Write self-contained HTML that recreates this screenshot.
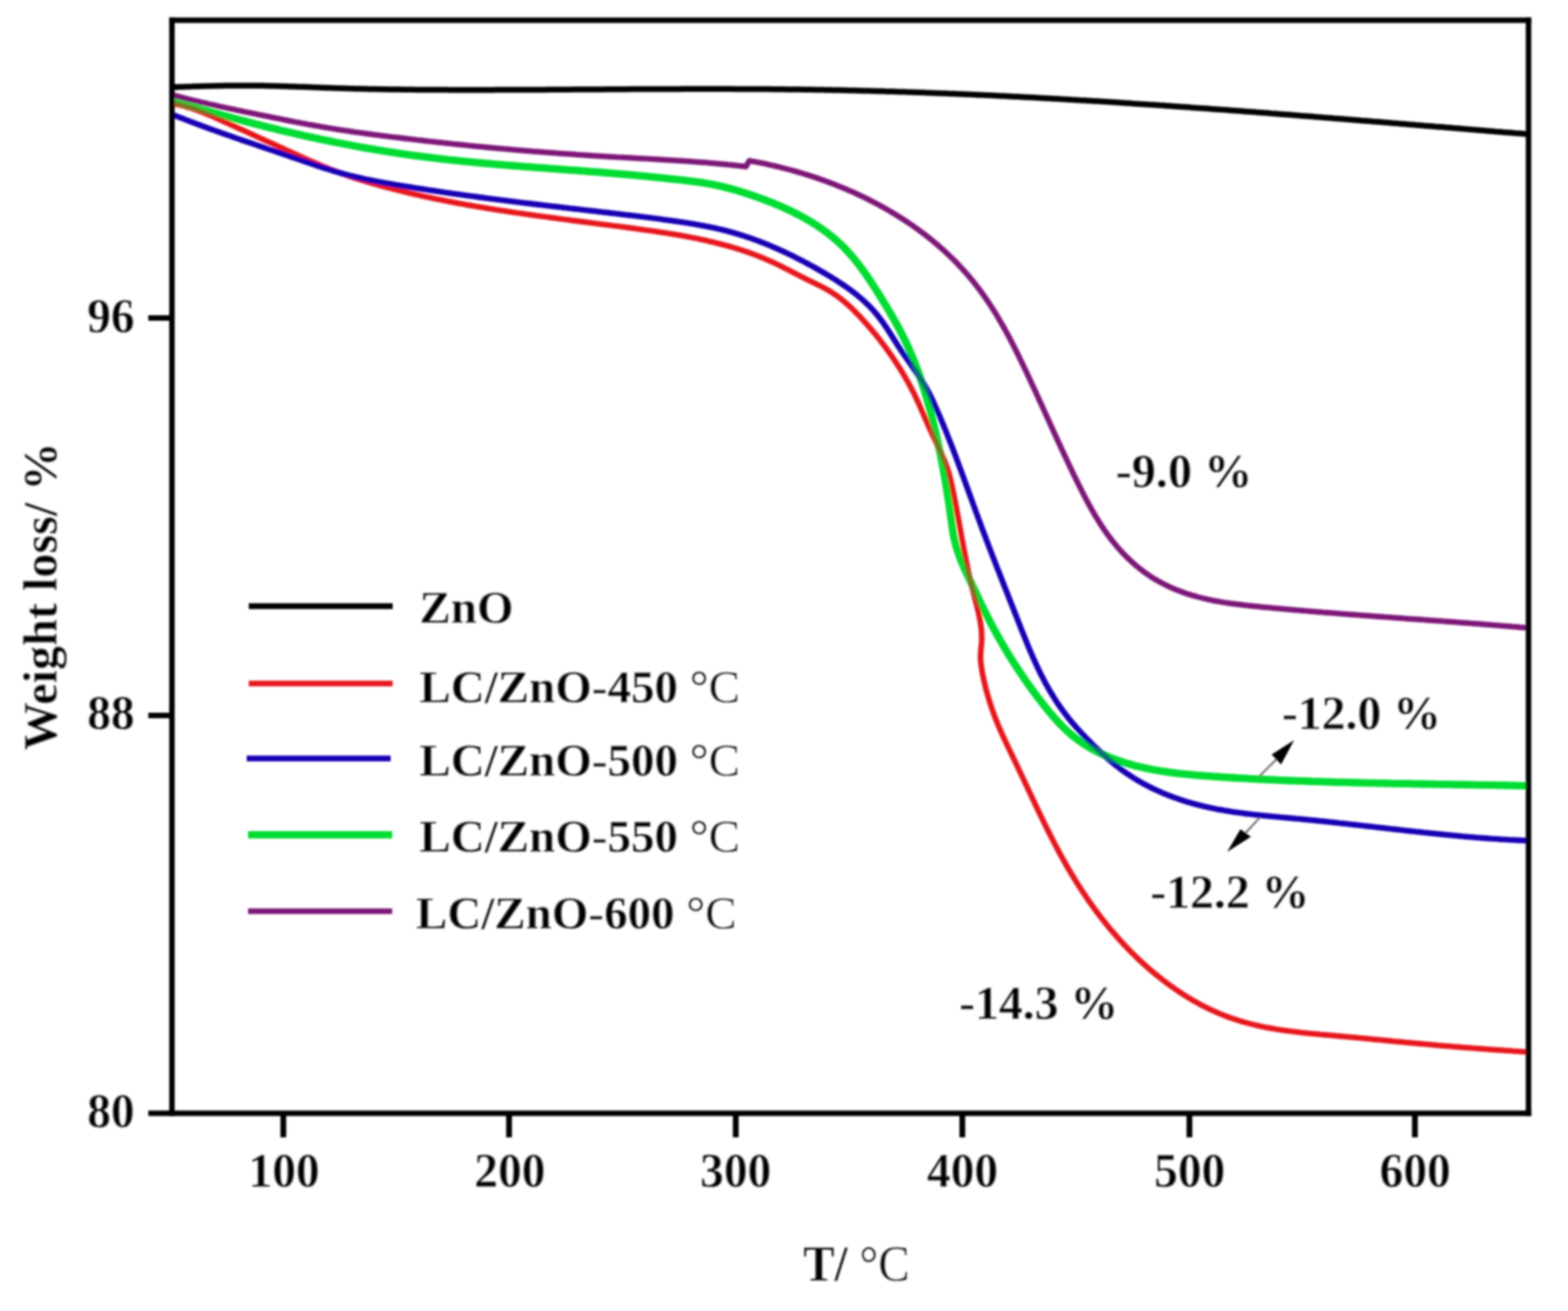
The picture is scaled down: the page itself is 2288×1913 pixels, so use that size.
<!DOCTYPE html>
<html lang="en"><head><meta charset="utf-8"><title>TG curves: weight loss vs temperature</title>
<style>
html,body{margin:0;padding:0;background:#fff;}
body{width:2288px;height:1913px;overflow:hidden;}
svg{display:block;}
text{font-family:"Liberation Serif","DejaVu Serif",serif;font-weight:bold;fill:#000;stroke:#fff;stroke-width:0.3px;stroke-linejoin:round;}
.r{font-weight:normal;}
.c{fill:none;stroke-linejoin:round;stroke-linecap:butt;}
</style></head><body>
<svg xmlns="http://www.w3.org/2000/svg" width="2288" height="1913" viewBox="0 0 2288 1913">
<rect x="0" y="0" width="2288" height="1913" fill="#fff"/>
<defs><filter id="soft" x="-2%" y="-2%" width="104%" height="104%"><feGaussianBlur stdDeviation="1.4"/></filter></defs>
<g filter="url(#soft)">
<g class="c">
<path d="M251.0,127.3L255.0,127.1L259.0,127.0L263.0,126.8L267.0,126.7L271.0,126.5L275.0,126.4L279.0,126.3L283.0,126.1L287.0,126.0L291.0,125.9L295.0,125.8L299.0,125.7L303.0,125.6L307.0,125.5L311.0,125.4L315.0,125.3L319.0,125.2L323.0,125.2L327.0,125.1L331.1,125.1L335.1,125.0L339.1,125.0L343.1,124.9L347.1,124.9L351.1,124.9L355.1,124.9L359.1,124.9L363.1,124.9L367.1,125.0L371.1,125.0L375.1,125.0L379.1,125.1L383.1,125.1L387.1,125.2L391.1,125.3L395.1,125.4L399.1,125.5L403.1,125.6L407.1,125.7L411.1,125.8L415.1,125.9L419.1,126.0L423.1,126.2L427.1,126.3L431.1,126.4L435.1,126.6L439.1,126.7L443.1,126.8L447.1,127.0L451.1,127.1L455.1,127.3L459.1,127.4L463.1,127.6L467.1,127.7L471.1,127.9L475.1,128.0L479.1,128.2L483.1,128.3L487.1,128.4L491.1,128.6L495.1,128.7L499.1,128.8L503.1,128.9L507.1,129.1L511.1,129.2L515.1,129.3L519.1,129.4L523.1,129.5L527.1,129.6L531.1,129.7L535.1,129.8L539.1,129.9L543.1,129.9L547.1,130.0L551.1,130.1L555.1,130.2L559.1,130.2L563.1,130.3L567.1,130.4L571.1,130.4L575.1,130.5L579.1,130.6L583.1,130.6L587.1,130.7L591.1,130.7L595.1,130.7L599.1,130.8L603.1,130.8L607.1,130.9L611.1,130.9L615.1,130.9L619.1,131.0L623.1,131.0L627.1,131.0L631.1,131.0L635.1,131.1L639.1,131.1L643.1,131.1L647.1,131.1L651.1,131.1L655.1,131.2L659.1,131.2L663.1,131.2L667.1,131.2L671.1,131.2L675.1,131.2L679.1,131.2L683.1,131.2L687.1,131.2L691.1,131.2L695.1,131.2L699.1,131.2L703.2,131.2L707.2,131.2L711.2,131.2L715.2,131.2L719.2,131.2L723.2,131.1L727.2,131.1L731.2,131.1L735.2,131.1L739.2,131.1L743.2,131.1L747.2,131.1L751.2,131.1L755.2,131.0L759.2,131.0L763.2,131.0L767.2,131.0L771.2,131.0L775.2,131.0L779.2,130.9L783.2,130.9L787.2,130.9L791.2,130.9L795.2,130.9L799.2,130.8L803.2,130.8L807.2,130.8L811.2,130.8L815.2,130.7L819.2,130.7L823.2,130.7L827.2,130.7L831.2,130.7L835.2,130.6L839.2,130.6L843.2,130.6L847.2,130.6L851.3,130.5L855.3,130.5L859.3,130.5L863.3,130.5L867.3,130.4L871.3,130.4L875.3,130.4L879.3,130.4L883.3,130.3L887.3,130.3L891.3,130.3L895.3,130.3L899.3,130.2L903.3,130.2L907.3,130.2L911.3,130.2L915.3,130.2L919.3,130.1L923.3,130.1L927.3,130.1L931.3,130.1L935.3,130.1L939.3,130.0L943.3,130.0L947.3,130.0L951.3,130.0L955.3,130.0L959.3,130.0L963.3,129.9L967.4,129.9L971.4,129.9L975.4,129.9L979.4,129.9L983.4,129.9L987.4,129.9L991.4,129.9L995.4,129.8L999.4,129.8L1003.4,129.8L1007.4,129.8L1011.4,129.8L1015.4,129.8L1019.4,129.8L1023.4,129.8L1027.4,129.8L1031.4,129.8L1035.4,129.8L1039.4,129.8L1043.4,129.8L1047.4,129.8L1051.4,129.8L1055.4,129.8L1059.4,129.8L1063.4,129.8L1067.4,129.8L1071.4,129.9L1075.4,129.9L1079.4,129.9L1083.4,129.9L1087.5,129.9L1091.5,129.9L1095.5,130.0L1099.5,130.0L1103.5,130.0L1107.5,130.0L1111.5,130.1L1115.5,130.1L1119.5,130.1L1123.5,130.1L1127.5,130.2L1131.5,130.2L1135.5,130.3L1139.5,130.3L1143.5,130.3L1147.5,130.4L1151.5,130.4L1155.5,130.5L1159.5,130.5L1163.5,130.6L1167.5,130.6L1171.5,130.7L1175.5,130.7L1179.5,130.8L1183.5,130.8L1187.5,130.9L1191.5,131.0L1195.5,131.0L1199.5,131.1L1203.5,131.2L1207.5,131.2L1211.5,131.3L1215.5,131.4L1219.5,131.5L1223.5,131.6L1227.5,131.6L1231.5,131.7L1235.5,131.8L1239.5,131.9L1243.5,132.0L1247.5,132.1L1251.5,132.2L1255.5,132.3L1259.5,132.4L1263.5,132.5L1267.5,132.6L1271.5,132.7L1275.5,132.8L1279.5,132.9L1283.5,133.0L1287.5,133.1L1291.5,133.3L1295.5,133.4L1299.5,133.5L1303.5,133.6L1307.5,133.7L1311.5,133.9L1315.5,134.0L1319.5,134.1L1323.5,134.3L1327.5,134.4L1331.5,134.5L1335.5,134.7L1339.5,134.8L1343.5,135.0L1347.5,135.1L1351.5,135.3L1355.5,135.4L1359.5,135.6L1363.5,135.7L1367.5,135.9L1371.5,136.0L1375.5,136.2L1379.5,136.3L1383.5,136.5L1387.5,136.7L1391.5,136.8L1395.5,137.0L1399.5,137.2L1403.5,137.3L1407.5,137.5L1411.5,137.7L1415.5,137.8L1419.5,138.0L1423.5,138.2L1427.5,138.4L1431.5,138.6L1435.5,138.7L1439.5,138.9L1443.5,139.1L1447.5,139.3L1451.5,139.5L1455.5,139.7L1459.5,139.9L1463.5,140.1L1467.5,140.3L1471.5,140.5L1475.5,140.7L1479.5,140.9L1483.5,141.1L1487.5,141.3L1491.5,141.5L1495.5,141.7L1499.5,141.9L1503.5,142.1L1507.5,142.3L1511.5,142.5L1515.4,142.8L1519.4,143.0L1523.4,143.2L1527.4,143.4L1531.4,143.6L1535.4,143.9L1539.4,144.1L1543.4,144.3L1547.4,144.5L1551.4,144.8L1555.4,145.0L1559.4,145.2L1563.4,145.5L1567.4,145.7L1571.4,145.9L1575.4,146.2L1579.4,146.4L1583.4,146.6L1587.4,146.9L1591.4,147.1L1595.4,147.4L1599.4,147.6L1603.4,147.8L1607.4,148.1L1611.4,148.3L1615.4,148.6L1619.3,148.8L1623.3,149.1L1627.3,149.3L1631.3,149.6L1635.3,149.9L1639.3,150.1L1643.3,150.4L1647.3,150.6L1651.3,150.9L1655.3,151.2L1659.3,151.4L1663.3,151.7L1667.3,151.9L1671.3,152.2L1675.3,152.5L1679.3,152.7L1683.3,153.0L1687.3,153.3L1691.3,153.6L1695.2,153.8L1699.2,154.1L1703.2,154.4L1707.2,154.6L1711.2,154.9L1715.2,155.2L1719.2,155.5L1723.2,155.8L1727.2,156.0L1731.2,156.3L1735.2,156.6L1739.2,156.9L1743.2,157.2L1747.2,157.5L1751.2,157.7L1755.2,158.0L1759.1,158.3L1763.1,158.6L1767.1,158.9L1771.1,159.2L1775.1,159.5L1779.1,159.8L1783.1,160.1L1787.1,160.3L1791.1,160.6L1795.1,160.9L1799.1,161.2L1803.1,161.5L1807.1,161.8L1811.1,162.1L1815.0,162.4L1819.0,162.7L1823.0,163.0L1827.0,163.3L1831.0,163.6L1835.0,163.9L1839.0,164.2L1843.0,164.5L1847.0,164.8L1851.0,165.1L1855.0,165.5L1859.0,165.8L1863.0,166.1L1866.9,166.4L1870.9,166.7L1874.9,167.0L1878.9,167.3L1882.9,167.6L1886.9,167.9L1890.9,168.2L1894.9,168.6L1898.9,168.9L1902.9,169.2L1906.9,169.5L1910.9,169.8L1914.8,170.1L1918.8,170.4L1922.8,170.8L1926.8,171.1L1930.8,171.4L1934.8,171.7L1938.8,172.0L1942.8,172.3L1946.8,172.7L1950.8,173.0L1954.8,173.3L1958.7,173.6L1962.7,173.9L1966.7,174.3L1970.7,174.6L1974.7,174.9L1978.7,175.2L1982.7,175.5L1986.7,175.9L1990.7,176.2L1994.7,176.5L1998.7,176.8L2002.6,177.2L2006.6,177.5L2010.6,177.8L2014.6,178.1L2018.6,178.5L2022.6,178.8L2026.6,179.1L2030.6,179.4L2034.6,179.8L2038.6,180.1L2042.5,180.4L2046.5,180.7L2050.5,181.1L2054.5,181.4L2058.5,181.7L2062.5,182.0L2066.5,182.4L2070.5,182.7L2074.5,183.0L2078.4,183.4L2082.4,183.7L2086.4,184.0L2090.4,184.3L2094.4,184.7L2098.4,185.0L2102.4,185.3L2106.4,185.6L2110.4,186.0L2114.3,186.3L2118.3,186.6L2122.3,187.0L2126.3,187.3L2130.3,187.6L2134.3,187.9L2138.3,188.3L2142.3,188.6L2146.3,188.9L2150.2,189.3L2154.2,189.6L2158.2,189.9L2162.2,190.2L2166.2,190.6L2170.2,190.9L2174.2,191.2L2178.2,191.5L2182.1,191.9L2186.1,192.2L2190.1,192.5L2194.1,192.9L2198.1,193.2L2202.1,193.5L2206.1,193.8L2210.1,194.2L2214.0,194.5L2218.0,194.8L2222.0,195.1L2226.0,195.5L2230.0,195.8" stroke="#000000" stroke-width="8.5"/>
<path id="g550" d="M251.0,146.5L254.8,147.7L258.6,148.8L262.5,150.0L266.3,151.2L270.1,152.3L274.0,153.5L277.8,154.6L281.6,155.7L285.5,156.9L289.3,158.0L293.1,159.1L297.0,160.2L300.8,161.3L304.7,162.4L308.5,163.5L312.4,164.6L316.2,165.7L320.1,166.8L323.9,167.9L327.8,169.0L331.7,170.0L335.5,171.1L339.4,172.1L343.3,173.2L347.1,174.2L351.0,175.2L354.9,176.3L358.7,177.3L362.6,178.3L366.5,179.3L370.4,180.3L374.2,181.3L378.1,182.3L382.0,183.3L385.9,184.3L389.8,185.2L393.7,186.2L397.6,187.1L401.5,188.1L405.4,189.0L409.2,190.0L413.1,190.9L417.0,191.8L420.9,192.7L424.8,193.6L428.7,194.5L432.7,195.4L436.6,196.3L440.5,197.2L444.4,198.1L448.3,198.9L452.2,199.8L456.1,200.6L460.0,201.5L464.0,202.3L467.9,203.2L471.8,204.0L475.7,204.8L479.6,205.6L483.6,206.4L487.5,207.2L491.4,208.0L495.3,208.7L499.3,209.5L503.2,210.3L507.1,211.0L511.1,211.8L515.0,212.5L519.0,213.2L522.9,214.0L526.8,214.7L530.8,215.4L534.7,216.1L538.7,216.8L542.6,217.4L546.6,218.1L550.5,218.8L554.4,219.4L558.4,220.1L562.4,220.7L566.3,221.3L570.3,221.9L574.2,222.6L578.2,223.2L582.1,223.8L586.1,224.3L590.1,224.9L594.0,225.5L598.0,226.0L601.9,226.6L605.9,227.1L609.9,227.7L613.8,228.2L617.8,228.7L621.8,229.2L625.8,229.7L629.7,230.2L633.7,230.7L637.7,231.1L641.6,231.6L645.6,232.1L649.6,232.5L653.6,233.0L657.6,233.4L661.5,233.8L665.5,234.2L669.5,234.7L673.5,235.1L677.5,235.5L681.4,235.9L685.4,236.2L689.4,236.6L693.4,237.0L697.4,237.4L701.4,237.7L705.4,238.1L709.3,238.5L713.3,238.8L717.3,239.2L721.3,239.5L725.3,239.9L729.3,240.2L733.3,240.5L737.3,240.9L741.3,241.2L745.3,241.5L749.2,241.8L753.2,242.1L757.2,242.4L761.2,242.8L765.2,243.1L769.2,243.4L773.2,243.7L777.2,244.0L781.2,244.3L785.2,244.6L789.2,244.9L793.2,245.2L797.2,245.5L801.2,245.8L805.2,246.1L809.1,246.4L813.1,246.7L817.1,247.0L821.1,247.3L825.1,247.6L829.1,247.9L833.1,248.1L837.1,248.4L841.1,248.7L845.1,249.0L849.1,249.3L853.1,249.7L857.1,250.0L861.0,250.3L865.0,250.6L869.0,250.9L873.0,251.2L877.0,251.5L881.0,251.8L885.0,252.2L889.0,252.5L893.0,252.8L896.9,253.2L900.9,253.5L904.9,253.8L908.9,254.2L912.9,254.5L916.9,254.9L920.9,255.2L924.8,255.6L928.8,256.0L932.8,256.4L936.8,256.7L940.8,257.1L944.7,257.5L948.7,257.9L952.7,258.3L956.7,258.7L960.7,259.1L964.7,259.5L968.6,259.9L972.6,260.3L976.6,260.8L980.6,261.2L984.6,261.6L988.6,262.0L992.6,262.5L996.6,262.9L1000.6,263.4L1004.6,263.8L1008.6,264.3L1012.6,264.8L1016.6,265.4L1020.6,265.9L1024.5,266.5L1028.5,267.2L1032.4,267.8L1036.4,268.5L1040.3,269.3L1044.2,270.1L1048.1,270.9L1051.9,271.8L1055.8,272.7L1059.7,273.7L1063.5,274.7L1067.3,275.7L1071.1,276.8L1074.9,277.9L1078.8,279.0L1082.5,280.2L1086.3,281.4L1090.1,282.6L1093.9,283.9L1097.7,285.1L1101.5,286.4L1105.3,287.8L1109.1,289.1L1112.9,290.5L1116.6,291.9L1120.4,293.4L1124.1,294.8L1127.9,296.3L1131.6,297.9L1135.4,299.4L1139.1,301.0L1142.8,302.6L1146.4,304.3L1150.1,306.0L1153.8,307.7L1157.4,309.5L1161.0,311.3L1164.6,313.1L1168.1,315.0L1171.6,316.9L1175.2,318.9L1178.6,320.9L1182.1,322.9L1185.5,325.0L1188.9,327.1L1192.2,329.3L1195.5,331.5L1198.8,333.8L1202.1,336.1L1205.3,338.4L1208.4,340.8L1211.6,343.3L1214.6,345.8L1217.7,348.3L1220.7,350.9L1223.6,353.6L1226.5,356.3L1229.4,359.0L1232.2,361.8L1234.9,364.7L1237.6,367.6L1240.3,370.6L1242.9,373.6L1245.5,376.6L1248.0,379.7L1250.5,382.8L1253.0,386.0L1255.4,389.2L1257.8,392.4L1260.2,395.7L1262.5,398.9L1264.8,402.2L1267.1,405.6L1269.3,408.9L1271.5,412.3L1273.7,415.7L1275.9,419.0L1278.1,422.5L1280.2,425.9L1282.4,429.3L1284.5,432.7L1286.6,436.1L1288.7,439.6L1290.8,443.0L1292.9,446.4L1294.9,449.8L1297.0,453.3L1299.0,456.7L1301.0,460.2L1303.0,463.6L1305.0,467.1L1307.0,470.6L1308.9,474.0L1310.8,477.5L1312.7,481.0L1314.5,484.6L1316.3,488.1L1318.1,491.6L1319.9,495.2L1321.6,498.8L1323.3,502.4L1325.0,506.0L1326.6,509.6L1328.2,513.3L1329.8,516.9L1331.3,520.6L1332.8,524.3L1334.3,528.0L1335.7,531.8L1337.2,535.5L1338.6,539.2L1339.9,543.0L1341.3,546.8L1342.6,550.6L1343.9,554.4L1345.1,558.2L1346.4,562.0L1347.6,565.8L1348.8,569.6L1350.0,573.5L1351.1,577.3L1352.3,581.2L1353.4,585.0L1354.5,588.9L1355.5,592.8L1356.6,596.6L1357.6,600.5L1358.6,604.4L1359.7,608.3L1360.6,612.2L1361.6,616.1L1362.6,620.0L1363.5,623.9L1364.4,627.8L1365.4,631.7L1366.3,635.6L1367.1,639.5L1368.0,643.4L1368.9,647.3L1369.7,651.2L1370.5,655.1L1371.4,659.0L1372.2,662.9L1372.9,666.8L1373.7,670.8L1374.5,674.7L1375.2,678.6L1376.0,682.5L1376.7,686.5L1377.4,690.4L1378.1,694.3L1378.8,698.3L1379.5,702.2L1380.2,706.1L1380.8,710.1L1381.5,714.0L1382.1,718.0L1382.7,721.9L1383.3,725.9L1383.9,729.8L1384.5,733.8L1385.1,737.8L1385.7,741.7L1386.2,745.7L1386.8,749.7L1387.3,753.6L1387.8,757.6L1388.4,761.6L1388.9,765.6L1389.5,769.5L1390.1,773.5L1390.7,777.4L1391.4,781.3L1392.2,785.2L1393.1,789.1L1394.1,792.9L1395.1,796.8L1396.2,800.6L1397.4,804.3L1398.7,808.1L1400.0,811.8L1401.4,815.5L1402.9,819.2L1404.4,822.9L1406.0,826.6L1407.6,830.2L1409.3,833.9L1410.9,837.5L1412.7,841.2L1414.4,844.8L1416.1,848.4L1417.9,852.0L1419.6,855.7L1421.3,859.3L1423.0,863.0L1424.8,866.6L1426.5,870.2L1428.2,873.9L1429.9,877.5L1431.6,881.1L1433.4,884.7L1435.1,888.4L1436.9,891.9L1438.7,895.5L1440.5,899.1L1442.3,902.7L1444.1,906.2L1446.0,909.8L1447.9,913.3L1449.8,916.8L1451.7,920.3L1453.6,923.8L1455.5,927.3L1457.5,930.8L1459.5,934.3L1461.4,937.7L1463.4,941.2L1465.5,944.6L1467.5,948.1L1469.6,951.5L1471.6,954.9L1473.7,958.3L1475.8,961.7L1478.0,965.1L1480.1,968.4L1482.3,971.8L1484.5,975.1L1486.7,978.5L1488.9,981.8L1491.1,985.1L1493.4,988.4L1495.6,991.7L1497.9,995.0L1500.2,998.3L1502.5,1001.5L1504.9,1004.8L1507.2,1008.0L1509.6,1011.2L1512.0,1014.5L1514.4,1017.7L1516.9,1020.9L1519.3,1024.0L1521.8,1027.2L1524.3,1030.4L1526.8,1033.5L1529.4,1036.7L1531.9,1039.8L1534.5,1042.8L1537.1,1045.9L1539.8,1048.9L1542.5,1051.9L1545.2,1054.8L1548.0,1057.7L1550.8,1060.6L1553.7,1063.4L1556.6,1066.1L1559.5,1068.8L1562.5,1071.4L1565.6,1074.0L1568.7,1076.5L1571.9,1078.9L1575.1,1081.3L1578.4,1083.5L1581.7,1085.7L1585.1,1087.9L1588.5,1090.0L1592.0,1092.0L1595.5,1093.9L1599.0,1095.8L1602.6,1097.6L1606.2,1099.3L1609.8,1101.0L1613.5,1102.6L1617.2,1104.2L1620.9,1105.7L1624.6,1107.2L1628.3,1108.5L1632.1,1109.9L1635.9,1111.2L1639.7,1112.4L1643.5,1113.6L1647.3,1114.7L1651.1,1115.8L1654.9,1116.9L1658.8,1117.9L1662.6,1118.8L1666.5,1119.7L1670.4,1120.6L1674.3,1121.4L1678.2,1122.2L1682.1,1123.0L1686.1,1123.7L1690.0,1124.4L1693.9,1125.0L1697.9,1125.6L1701.9,1126.2L1705.8,1126.8L1709.8,1127.3L1713.8,1127.8L1717.8,1128.3L1721.7,1128.8L1725.7,1129.2L1729.7,1129.6L1733.7,1130.0L1737.7,1130.4L1741.8,1130.8L1745.8,1131.1L1749.8,1131.5L1753.8,1131.8L1757.8,1132.1L1761.8,1132.4L1765.8,1132.7L1769.8,1133.0L1773.9,1133.2L1777.9,1133.5L1781.9,1133.8L1785.9,1134.0L1789.9,1134.3L1793.9,1134.5L1797.9,1134.8L1801.9,1135.0L1805.9,1135.3L1809.9,1135.5L1813.9,1135.7L1817.9,1135.9L1821.9,1136.2L1825.9,1136.4L1829.9,1136.6L1833.9,1136.8L1837.9,1137.0L1841.9,1137.2L1845.9,1137.4L1849.8,1137.6L1853.8,1137.8L1857.8,1137.9L1861.8,1138.1L1865.8,1138.3L1869.8,1138.5L1873.8,1138.6L1877.8,1138.8L1881.8,1139.0L1885.8,1139.1L1889.8,1139.3L1893.8,1139.4L1897.8,1139.6L1901.7,1139.7L1905.7,1139.9L1909.7,1140.0L1913.7,1140.2L1917.7,1140.3L1921.7,1140.4L1925.7,1140.6L1929.7,1140.7L1933.7,1140.8L1937.7,1140.9L1941.7,1141.1L1945.7,1141.2L1949.7,1141.3L1953.7,1141.4L1957.7,1141.5L1961.7,1141.6L1965.7,1141.7L1969.7,1141.8L1973.7,1141.9L1977.7,1142.0L1981.7,1142.1L1985.7,1142.2L1989.7,1142.3L1993.7,1142.4L1997.7,1142.5L2001.7,1142.6L2005.7,1142.7L2009.7,1142.8L2013.8,1142.9L2017.8,1142.9L2021.8,1143.0L2025.8,1143.1L2029.8,1143.2L2033.8,1143.3L2037.8,1143.3L2041.8,1143.4L2045.8,1143.5L2049.8,1143.6L2053.8,1143.6L2057.8,1143.7L2061.8,1143.8L2065.8,1143.8L2069.9,1143.9L2073.9,1144.0L2077.9,1144.0L2081.9,1144.1L2085.9,1144.2L2089.9,1144.2L2093.9,1144.3L2097.9,1144.4L2101.9,1144.4L2105.9,1144.5L2109.9,1144.6L2113.9,1144.6L2117.9,1144.7L2121.9,1144.8L2126.0,1144.8L2130.0,1144.9L2134.0,1144.9L2138.0,1145.0L2142.0,1145.1L2146.0,1145.1L2150.0,1145.2L2154.0,1145.3L2158.0,1145.3L2162.0,1145.4L2166.0,1145.5L2170.0,1145.5L2174.0,1145.6L2178.0,1145.7L2182.0,1145.7L2186.0,1145.8L2190.0,1145.9L2194.0,1145.9L2198.0,1146.0L2202.0,1146.1L2206.0,1146.1L2210.0,1146.2L2214.0,1146.3L2218.0,1146.4L2222.0,1146.4L2226.0,1146.5L2230.0,1146.6" stroke="#00dc32" stroke-width="10.8"/>
<path d="M251.0,150.8L255.0,151.5L258.9,152.4L262.8,153.3L266.7,154.3L270.6,155.3L274.4,156.5L278.2,157.6L282.0,158.9L285.8,160.2L289.5,161.6L293.3,163.0L297.0,164.4L300.7,165.9L304.4,167.5L308.1,169.0L311.7,170.6L315.4,172.2L319.0,173.9L322.7,175.5L326.3,177.2L329.9,178.8L333.6,180.5L337.2,182.2L340.9,183.8L344.5,185.5L348.1,187.2L351.8,188.8L355.4,190.5L359.1,192.1L362.7,193.8L366.3,195.4L370.0,197.1L373.6,198.7L377.3,200.4L380.9,202.1L384.5,203.7L388.2,205.4L391.8,207.0L395.5,208.7L399.1,210.3L402.8,212.0L406.4,213.7L410.0,215.3L413.7,217.0L417.3,218.7L421.0,220.3L424.6,222.0L428.2,223.7L431.9,225.3L435.5,227.0L439.2,228.6L442.8,230.3L446.5,231.9L450.1,233.6L453.8,235.2L457.5,236.8L461.1,238.4L464.8,239.9L468.5,241.5L472.2,243.0L475.9,244.5L479.6,246.0L483.3,247.5L487.1,248.9L490.8,250.3L494.6,251.7L498.3,253.1L502.1,254.4L505.9,255.7L509.7,257.0L513.5,258.3L517.3,259.5L521.1,260.8L524.9,262.0L528.7,263.2L532.5,264.3L536.4,265.5L540.2,266.6L544.1,267.7L547.9,268.8L551.8,269.9L555.6,271.0L559.5,272.1L563.3,273.1L567.2,274.1L571.1,275.1L574.9,276.1L578.8,277.1L582.7,278.1L586.6,279.1L590.5,280.0L594.3,280.9L598.2,281.9L602.1,282.8L606.0,283.7L609.9,284.6L613.8,285.4L617.7,286.3L621.6,287.2L625.5,288.0L629.4,288.8L633.3,289.7L637.2,290.5L641.2,291.3L645.1,292.1L649.0,292.8L652.9,293.6L656.8,294.4L660.8,295.1L664.7,295.9L668.6,296.6L672.5,297.3L676.5,298.0L680.4,298.7L684.3,299.4L688.3,300.1L692.2,300.8L696.2,301.5L700.1,302.1L704.1,302.8L708.0,303.4L711.9,304.1L715.9,304.7L719.8,305.4L723.8,306.0L727.7,306.6L731.7,307.2L735.7,307.8L739.6,308.4L743.6,309.0L747.5,309.6L751.5,310.2L755.4,310.8L759.4,311.3L763.4,311.9L767.3,312.5L771.3,313.0L775.3,313.6L779.2,314.1L783.2,314.7L787.2,315.2L791.1,315.8L795.1,316.3L799.1,316.8L803.0,317.4L807.0,317.9L811.0,318.4L815.0,319.0L818.9,319.5L822.9,320.0L826.9,320.5L830.8,321.0L834.8,321.6L838.8,322.1L842.8,322.6L846.7,323.1L850.7,323.6L854.7,324.1L858.7,324.6L862.6,325.1L866.6,325.7L870.6,326.2L874.5,326.7L878.5,327.2L882.5,327.7L886.5,328.2L890.4,328.7L894.4,329.3L898.4,329.8L902.3,330.3L906.3,330.8L910.3,331.3L914.3,331.9L918.2,332.4L922.2,332.9L926.2,333.5L930.1,334.0L934.1,334.6L938.0,335.1L942.0,335.7L946.0,336.2L949.9,336.8L953.9,337.3L957.8,337.9L961.8,338.5L965.7,339.1L969.7,339.7L973.6,340.3L977.6,341.0L981.5,341.6L985.5,342.3L989.4,342.9L993.3,343.6L997.3,344.3L1001.2,345.1L1005.1,345.8L1009.1,346.5L1013.0,347.3L1016.9,348.1L1020.8,348.9L1024.7,349.7L1028.6,350.6L1032.5,351.5L1036.4,352.4L1040.3,353.3L1044.2,354.2L1048.0,355.2L1051.9,356.2L1055.8,357.2L1059.6,358.2L1063.5,359.3L1067.3,360.4L1071.2,361.6L1075.0,362.7L1078.8,363.9L1082.6,365.1L1086.4,366.4L1090.2,367.7L1094.0,369.0L1097.7,370.4L1101.5,371.7L1105.2,373.2L1108.9,374.6L1112.6,376.1L1116.3,377.7L1120.0,379.2L1123.7,380.9L1127.3,382.5L1130.9,384.2L1134.5,385.9L1138.1,387.7L1141.7,389.5L1145.3,391.3L1148.9,393.1L1152.5,395.0L1156.0,396.8L1159.6,398.7L1163.2,400.5L1166.7,402.3L1170.3,404.2L1173.9,406.0L1177.5,407.8L1181.1,409.5L1184.7,411.3L1188.3,413.0L1191.9,414.8L1195.4,416.5L1199.0,418.3L1202.5,420.2L1206.0,422.1L1209.5,424.1L1212.9,426.1L1216.2,428.3L1219.5,430.5L1222.7,432.8L1225.9,435.3L1229.0,437.7L1232.1,440.3L1235.1,442.9L1238.1,445.6L1241.1,448.3L1244.0,451.1L1246.9,453.9L1249.7,456.8L1252.5,459.7L1255.3,462.6L1258.0,465.5L1260.7,468.5L1263.4,471.5L1266.0,474.5L1268.6,477.5L1271.2,480.5L1273.8,483.5L1276.3,486.6L1278.9,489.7L1281.3,492.8L1283.8,495.9L1286.2,499.1L1288.6,502.2L1291.0,505.4L1293.4,508.6L1295.7,511.9L1298.0,515.1L1300.3,518.4L1302.6,521.7L1304.8,525.0L1307.1,528.3L1309.2,531.7L1311.4,535.1L1313.6,538.5L1315.7,541.9L1317.7,545.3L1319.8,548.8L1321.8,552.3L1323.8,555.8L1325.8,559.3L1327.7,562.8L1329.6,566.3L1331.4,569.9L1333.2,573.4L1335.0,577.0L1336.7,580.6L1338.4,584.2L1340.1,587.9L1341.7,591.5L1343.3,595.1L1344.9,598.8L1346.5,602.4L1348.1,606.1L1349.7,609.7L1351.3,613.4L1352.9,617.0L1354.5,620.7L1356.1,624.3L1357.8,628.0L1359.5,631.6L1361.1,635.3L1362.9,638.9L1364.6,642.5L1366.3,646.1L1368.0,649.8L1369.7,653.4L1371.4,657.0L1373.1,660.7L1374.7,664.3L1376.3,668.0L1377.9,671.6L1379.4,675.3L1380.8,679.1L1382.1,682.8L1383.4,686.6L1384.6,690.4L1385.6,694.2L1386.6,698.1L1387.5,702.0L1388.4,705.9L1389.3,709.8L1390.1,713.7L1390.9,717.7L1391.7,721.6L1392.5,725.5L1393.3,729.5L1394.1,733.4L1394.8,737.3L1395.6,741.2L1396.3,745.2L1397.0,749.1L1397.7,753.0L1398.5,757.0L1399.2,760.9L1399.9,764.9L1400.6,768.8L1401.3,772.7L1402.0,776.7L1402.7,780.6L1403.4,784.5L1404.1,788.5L1404.9,792.4L1405.6,796.3L1406.3,800.3L1407.1,804.2L1407.8,808.1L1408.6,812.0L1409.3,816.0L1410.1,819.9L1410.9,823.8L1411.7,827.7L1412.6,831.6L1413.4,835.6L1414.3,839.5L1415.1,843.4L1416.0,847.3L1417.0,851.2L1417.9,855.1L1418.9,859.0L1419.9,862.9L1420.9,866.8L1421.9,870.7L1422.9,874.5L1423.9,878.4L1425.0,882.3L1425.9,886.2L1426.9,890.1L1427.8,894.0L1428.6,897.9L1429.4,901.8L1430.1,905.7L1430.8,909.6L1431.4,913.5L1431.8,917.4L1432.2,921.3L1432.4,925.3L1432.5,929.3L1432.5,933.2L1432.3,937.2L1432.0,941.2L1431.6,945.2L1431.3,949.2L1431.0,953.2L1430.8,957.2L1430.8,961.2L1431.1,965.1L1431.5,969.1L1432.0,973.0L1432.6,977.0L1433.3,980.9L1434.0,984.8L1434.8,988.7L1435.7,992.6L1436.6,996.5L1437.5,1000.4L1438.4,1004.3L1439.5,1008.2L1440.5,1012.1L1441.6,1015.9L1442.8,1019.8L1443.9,1023.6L1445.2,1027.4L1446.4,1031.3L1447.7,1035.1L1449.1,1038.8L1450.4,1042.6L1451.9,1046.4L1453.3,1050.1L1454.8,1053.8L1456.3,1057.5L1457.8,1061.2L1459.4,1064.9L1461.0,1068.6L1462.7,1072.2L1464.3,1075.8L1466.0,1079.5L1467.7,1083.1L1469.4,1086.7L1471.1,1090.3L1472.8,1093.9L1474.6,1097.5L1476.3,1101.1L1478.0,1104.7L1479.8,1108.3L1481.5,1111.9L1483.2,1115.5L1484.9,1119.1L1486.6,1122.7L1488.3,1126.3L1490.1,1129.9L1491.8,1133.5L1493.5,1137.2L1495.2,1140.8L1496.9,1144.4L1498.6,1148.0L1500.3,1151.7L1502.0,1155.3L1503.7,1158.9L1505.4,1162.5L1507.1,1166.2L1508.8,1169.8L1510.5,1173.4L1512.2,1177.0L1513.9,1180.6L1515.7,1184.2L1517.4,1187.9L1519.1,1191.5L1520.9,1195.1L1522.6,1198.7L1524.4,1202.3L1526.2,1205.9L1527.9,1209.5L1529.7,1213.0L1531.5,1216.6L1533.3,1220.2L1535.2,1223.8L1537.0,1227.3L1538.8,1230.9L1540.7,1234.4L1542.5,1238.0L1544.4,1241.5L1546.3,1245.0L1548.2,1248.5L1550.2,1252.0L1552.1,1255.5L1554.1,1259.0L1556.0,1262.5L1558.0,1266.0L1560.0,1269.4L1562.1,1272.9L1564.1,1276.3L1566.2,1279.7L1568.3,1283.2L1570.4,1286.6L1572.5,1289.9L1574.7,1293.3L1576.8,1296.7L1579.0,1300.0L1581.2,1303.4L1583.5,1306.7L1585.7,1310.0L1588.0,1313.3L1590.3,1316.6L1592.6,1319.9L1594.9,1323.1L1597.2,1326.3L1599.6,1329.6L1602.0,1332.8L1604.4,1335.9L1606.8,1339.1L1609.3,1342.3L1611.8,1345.4L1614.3,1348.5L1616.8,1351.6L1619.3,1354.7L1621.9,1357.8L1624.5,1360.8L1627.1,1363.8L1629.7,1366.8L1632.4,1369.8L1635.0,1372.8L1637.7,1375.7L1640.4,1378.6L1643.2,1381.5L1645.9,1384.4L1648.7,1387.3L1651.5,1390.1L1654.4,1392.9L1657.2,1395.7L1660.1,1398.5L1663.0,1401.2L1665.9,1403.9L1668.9,1406.6L1671.8,1409.3L1674.8,1412.0L1677.8,1414.6L1680.9,1417.2L1683.9,1419.8L1687.0,1422.3L1690.1,1424.8L1693.3,1427.3L1696.4,1429.8L1699.6,1432.2L1702.8,1434.6L1706.1,1437.0L1709.3,1439.4L1712.6,1441.7L1715.9,1444.0L1719.2,1446.2L1722.6,1448.5L1725.9,1450.7L1729.3,1452.8L1732.7,1454.9L1736.2,1457.0L1739.6,1459.1L1743.1,1461.1L1746.6,1463.0L1750.1,1465.0L1753.6,1466.8L1757.2,1468.7L1760.8,1470.5L1764.4,1472.2L1768.0,1474.0L1771.6,1475.6L1775.3,1477.2L1778.9,1478.8L1782.6,1480.3L1786.3,1481.8L1790.0,1483.2L1793.8,1484.6L1797.5,1485.9L1801.3,1487.2L1805.1,1488.4L1808.9,1489.6L1812.7,1490.8L1816.6,1491.9L1820.4,1492.9L1824.3,1493.9L1828.2,1494.9L1832.0,1495.8L1835.9,1496.7L1839.8,1497.6L1843.7,1498.4L1847.7,1499.2L1851.6,1499.9L1855.5,1500.6L1859.5,1501.3L1863.4,1502.0L1867.3,1502.6L1871.3,1503.2L1875.3,1503.8L1879.2,1504.3L1883.2,1504.8L1887.2,1505.3L1891.1,1505.8L1895.1,1506.3L1899.1,1506.7L1903.1,1507.2L1907.0,1507.6L1911.0,1508.0L1915.0,1508.4L1919.0,1508.7L1923.0,1509.1L1927.0,1509.5L1931.0,1509.8L1935.0,1510.2L1939.0,1510.5L1943.0,1510.9L1946.9,1511.2L1950.9,1511.6L1954.9,1511.9L1958.9,1512.3L1962.9,1512.6L1966.9,1513.0L1970.9,1513.4L1974.9,1513.7L1978.8,1514.1L1982.8,1514.5L1986.8,1514.9L1990.8,1515.2L1994.8,1515.6L1998.8,1516.0L2002.7,1516.4L2006.7,1516.8L2010.7,1517.2L2014.7,1517.5L2018.6,1517.9L2022.6,1518.3L2026.6,1518.7L2030.6,1519.1L2034.6,1519.5L2038.5,1519.8L2042.5,1520.2L2046.5,1520.6L2050.5,1521.0L2054.5,1521.3L2058.5,1521.7L2062.4,1522.1L2066.4,1522.4L2070.4,1522.8L2074.4,1523.2L2078.4,1523.5L2082.4,1523.9L2086.4,1524.2L2090.3,1524.6L2094.3,1524.9L2098.3,1525.3L2102.3,1525.6L2106.3,1526.0L2110.3,1526.3L2114.3,1526.6L2118.3,1527.0L2122.2,1527.3L2126.2,1527.6L2130.2,1527.9L2134.2,1528.3L2138.2,1528.6L2142.2,1528.9L2146.2,1529.2L2150.2,1529.5L2154.2,1529.8L2158.2,1530.1L2162.1,1530.4L2166.1,1530.7L2170.1,1531.0L2174.1,1531.3L2178.1,1531.6L2182.1,1531.9L2186.1,1532.1L2190.1,1532.4L2194.1,1532.7L2198.1,1533.0L2202.1,1533.2L2206.0,1533.5L2210.0,1533.8L2214.0,1534.0L2218.0,1534.3L2222.0,1534.5L2226.0,1534.8L2230.0,1535.0" stroke="#e6141e" stroke-width="8.2"/>
<path d="M251.0,166.8L254.7,168.3L258.4,169.8L262.2,171.3L265.9,172.7L269.6,174.2L273.4,175.6L277.1,177.1L280.8,178.5L284.6,179.9L288.3,181.3L292.1,182.7L295.8,184.1L299.6,185.5L303.3,186.9L307.1,188.2L310.9,189.6L314.6,190.9L318.4,192.3L322.2,193.6L325.9,195.0L329.7,196.3L333.5,197.6L337.2,198.9L341.0,200.2L344.8,201.6L348.6,202.9L352.4,204.2L356.1,205.5L359.9,206.8L363.7,208.1L367.5,209.3L371.3,210.6L375.1,211.9L378.9,213.2L382.6,214.5L386.4,215.8L390.2,217.1L394.0,218.4L397.8,219.6L401.6,220.9L405.4,222.2L409.2,223.5L413.0,224.8L416.8,226.1L420.5,227.4L424.3,228.7L428.1,230.0L431.9,231.3L435.7,232.6L439.5,233.9L443.3,235.2L447.1,236.5L450.9,237.8L454.6,239.1L458.4,240.4L462.2,241.7L466.0,242.9L469.8,244.2L473.7,245.4L477.5,246.6L481.3,247.8L485.1,249.0L488.9,250.2L492.8,251.3L496.6,252.4L500.5,253.5L504.3,254.5L508.2,255.5L512.1,256.5L515.9,257.4L519.8,258.3L523.7,259.2L527.6,260.1L531.5,261.0L535.4,261.8L539.3,262.6L543.3,263.4L547.2,264.1L551.1,264.9L555.0,265.6L559.0,266.3L562.9,267.1L566.8,267.7L570.8,268.4L574.7,269.1L578.7,269.8L582.6,270.4L586.6,271.1L590.5,271.7L594.5,272.4L598.4,273.0L602.4,273.7L606.3,274.3L610.3,274.9L614.2,275.5L618.2,276.1L622.1,276.7L626.1,277.3L630.0,277.9L634.0,278.5L637.9,279.1L641.9,279.7L645.9,280.3L649.8,280.9L653.8,281.4L657.7,282.0L661.7,282.6L665.7,283.1L669.6,283.7L673.6,284.2L677.6,284.8L681.5,285.3L685.5,285.9L689.5,286.4L693.4,286.9L697.4,287.5L701.4,288.0L705.3,288.5L709.3,289.1L713.3,289.6L717.2,290.1L721.2,290.6L725.2,291.1L729.1,291.6L733.1,292.1L737.1,292.6L741.1,293.1L745.0,293.6L749.0,294.1L753.0,294.6L756.9,295.1L760.9,295.6L764.9,296.1L768.9,296.5L772.8,297.0L776.8,297.5L780.8,298.0L784.8,298.5L788.7,298.9L792.7,299.4L796.7,299.9L800.7,300.3L804.6,300.8L808.6,301.3L812.6,301.7L816.6,302.2L820.5,302.7L824.5,303.1L828.5,303.6L832.5,304.1L836.4,304.5L840.4,305.0L844.4,305.4L848.4,305.9L852.3,306.4L856.3,306.8L860.3,307.3L864.3,307.7L868.2,308.2L872.2,308.7L876.2,309.1L880.1,309.6L884.1,310.0L888.1,310.5L892.1,311.0L896.0,311.4L900.0,311.9L904.0,312.3L908.0,312.8L911.9,313.3L915.9,313.8L919.9,314.2L923.8,314.7L927.8,315.2L931.8,315.7L935.7,316.2L939.7,316.7L943.7,317.2L947.7,317.7L951.6,318.2L955.6,318.7L959.6,319.2L963.5,319.7L967.5,320.3L971.5,320.8L975.4,321.4L979.4,321.9L983.4,322.5L987.3,323.0L991.3,323.6L995.3,324.2L999.2,324.8L1003.2,325.4L1007.2,326.1L1011.1,326.7L1015.1,327.4L1019.0,328.1L1022.9,328.8L1026.9,329.5L1030.8,330.3L1034.7,331.0L1038.6,331.9L1042.6,332.7L1046.5,333.6L1050.4,334.5L1054.2,335.4L1058.1,336.4L1062.0,337.4L1065.8,338.4L1069.7,339.5L1073.5,340.6L1077.3,341.7L1081.1,342.9L1084.9,344.1L1088.7,345.4L1092.5,346.6L1096.3,347.9L1100.0,349.3L1103.8,350.6L1107.5,352.0L1111.3,353.5L1115.0,354.9L1118.7,356.4L1122.4,357.9L1126.1,359.5L1129.7,361.1L1133.4,362.7L1137.1,364.3L1140.7,365.9L1144.4,367.6L1148.0,369.3L1151.6,371.0L1155.2,372.8L1158.8,374.6L1162.4,376.4L1166.0,378.2L1169.5,380.0L1173.1,381.9L1176.6,383.8L1180.2,385.7L1183.7,387.6L1187.2,389.5L1190.7,391.5L1194.2,393.5L1197.7,395.5L1201.2,397.5L1204.7,399.5L1208.1,401.6L1211.6,403.6L1215.0,405.7L1218.4,407.8L1221.8,410.0L1225.1,412.2L1228.4,414.4L1231.7,416.6L1235.0,418.9L1238.3,421.2L1241.5,423.5L1244.6,425.9L1247.8,428.4L1250.9,430.8L1253.9,433.4L1256.9,435.9L1259.9,438.6L1262.8,441.2L1265.7,444.0L1268.5,446.8L1271.2,449.6L1273.9,452.5L1276.5,455.5L1279.1,458.5L1281.6,461.6L1284.1,464.8L1286.4,468.0L1288.8,471.3L1291.1,474.6L1293.3,477.9L1295.6,481.3L1297.8,484.7L1300.0,488.1L1302.1,491.6L1304.3,495.0L1306.5,498.4L1308.6,501.8L1310.8,505.2L1313.1,508.6L1315.3,511.9L1317.5,515.3L1319.8,518.6L1322.1,521.8L1324.4,525.1L1326.7,528.4L1329.0,531.6L1331.2,534.9L1333.5,538.2L1335.8,541.5L1338.0,544.8L1340.3,548.1L1342.5,551.4L1344.6,554.8L1346.7,558.1L1348.8,561.5L1350.9,564.9L1352.8,568.4L1354.8,571.9L1356.6,575.4L1358.4,579.0L1360.2,582.6L1361.8,586.2L1363.5,589.8L1365.1,593.5L1366.7,597.1L1368.3,600.8L1369.9,604.5L1371.5,608.1L1373.0,611.8L1374.6,615.5L1376.1,619.2L1377.6,622.9L1379.2,626.6L1380.6,630.3L1382.1,634.0L1383.6,637.8L1385.1,641.5L1386.5,645.2L1388.0,648.9L1389.4,652.7L1390.9,656.4L1392.3,660.1L1393.7,663.9L1395.1,667.6L1396.5,671.4L1397.9,675.1L1399.3,678.9L1400.7,682.6L1402.1,686.4L1403.5,690.2L1404.9,693.9L1406.3,697.7L1407.6,701.4L1409.0,705.2L1410.4,709.0L1411.7,712.7L1413.1,716.5L1414.5,720.3L1415.8,724.0L1417.2,727.8L1418.6,731.6L1419.9,735.3L1421.3,739.1L1422.7,742.8L1424.0,746.6L1425.4,750.4L1426.8,754.1L1428.2,757.9L1429.6,761.6L1431.0,765.4L1432.3,769.1L1433.7,772.9L1435.1,776.6L1436.6,780.4L1438.0,784.1L1439.4,787.9L1440.8,791.6L1442.2,795.3L1443.7,799.1L1445.1,802.8L1446.5,806.5L1448.0,810.3L1449.4,814.0L1450.9,817.7L1452.3,821.4L1453.8,825.2L1455.2,828.9L1456.7,832.6L1458.1,836.3L1459.6,840.1L1461.1,843.8L1462.5,847.5L1464.0,851.2L1465.4,855.0L1466.9,858.7L1468.4,862.4L1469.9,866.1L1471.3,869.8L1472.8,873.6L1474.3,877.3L1475.7,881.0L1477.2,884.7L1478.7,888.5L1480.1,892.2L1481.6,895.9L1483.1,899.6L1484.5,903.4L1486.0,907.1L1487.5,910.8L1488.9,914.6L1490.4,918.3L1491.9,922.0L1493.4,925.7L1494.9,929.5L1496.4,933.2L1497.9,936.9L1499.4,940.6L1500.9,944.3L1502.5,948.0L1504.0,951.7L1505.6,955.4L1507.2,959.0L1508.9,962.7L1510.5,966.3L1512.2,970.0L1513.9,973.6L1515.6,977.2L1517.3,980.8L1519.1,984.4L1520.9,987.9L1522.8,991.5L1524.6,995.0L1526.5,998.5L1528.5,1002.0L1530.4,1005.5L1532.4,1008.9L1534.5,1012.3L1536.6,1015.7L1538.7,1019.1L1540.8,1022.5L1543.0,1025.8L1545.2,1029.1L1547.5,1032.4L1549.8,1035.6L1552.2,1038.8L1554.6,1042.0L1557.0,1045.2L1559.5,1048.3L1562.0,1051.4L1564.6,1054.5L1567.2,1057.5L1569.8,1060.5L1572.5,1063.5L1575.2,1066.5L1577.9,1069.4L1580.6,1072.3L1583.4,1075.2L1586.2,1078.1L1589.0,1081.0L1591.8,1083.8L1594.7,1086.7L1597.6,1089.5L1600.5,1092.3L1603.4,1095.0L1606.3,1097.8L1609.2,1100.5L1612.2,1103.2L1615.2,1105.9L1618.2,1108.5L1621.3,1111.1L1624.3,1113.6L1627.4,1116.2L1630.6,1118.6L1633.7,1121.1L1636.9,1123.5L1640.2,1125.8L1643.4,1128.1L1646.7,1130.3L1650.1,1132.5L1653.4,1134.7L1656.8,1136.8L1660.2,1138.8L1663.7,1140.8L1667.2,1142.8L1670.7,1144.7L1674.2,1146.5L1677.8,1148.4L1681.3,1150.1L1684.9,1151.9L1688.6,1153.5L1692.2,1155.2L1695.9,1156.8L1699.6,1158.3L1703.3,1159.8L1707.0,1161.3L1710.8,1162.7L1714.5,1164.1L1718.3,1165.4L1722.1,1166.7L1725.9,1168.0L1729.7,1169.2L1733.6,1170.4L1737.4,1171.5L1741.3,1172.6L1745.1,1173.6L1749.0,1174.7L1752.9,1175.6L1756.8,1176.6L1760.7,1177.5L1764.6,1178.4L1768.5,1179.2L1772.4,1180.0L1776.3,1180.8L1780.2,1181.5L1784.2,1182.2L1788.1,1182.9L1792.0,1183.5L1796.0,1184.2L1799.9,1184.8L1803.9,1185.4L1807.8,1185.9L1811.8,1186.4L1815.7,1187.0L1819.7,1187.5L1823.7,1187.9L1827.6,1188.4L1831.6,1188.8L1835.6,1189.3L1839.6,1189.7L1843.6,1190.1L1847.5,1190.5L1851.5,1190.9L1855.5,1191.3L1859.5,1191.6L1863.5,1192.0L1867.5,1192.4L1871.5,1192.7L1875.4,1193.1L1879.4,1193.5L1883.4,1193.8L1887.4,1194.2L1891.4,1194.6L1895.4,1194.9L1899.4,1195.3L1903.4,1195.7L1907.4,1196.1L1911.3,1196.5L1915.3,1196.9L1919.3,1197.3L1923.3,1197.7L1927.3,1198.1L1931.3,1198.5L1935.2,1198.9L1939.2,1199.3L1943.2,1199.8L1947.2,1200.2L1951.2,1200.6L1955.2,1201.1L1959.1,1201.5L1963.1,1201.9L1967.1,1202.4L1971.1,1202.8L1975.0,1203.3L1979.0,1203.7L1983.0,1204.2L1987.0,1204.6L1991.0,1205.1L1994.9,1205.5L1998.9,1206.0L2002.9,1206.4L2006.9,1206.9L2010.8,1207.3L2014.8,1207.8L2018.8,1208.2L2022.8,1208.7L2026.7,1209.1L2030.7,1209.6L2034.7,1210.0L2038.7,1210.5L2042.6,1210.9L2046.6,1211.4L2050.6,1211.8L2054.6,1212.3L2058.5,1212.7L2062.5,1213.1L2066.5,1213.6L2070.5,1214.0L2074.4,1214.4L2078.4,1214.9L2082.4,1215.3L2086.4,1215.7L2090.4,1216.1L2094.3,1216.5L2098.3,1216.9L2102.3,1217.3L2106.3,1217.7L2110.3,1218.1L2114.2,1218.5L2118.2,1218.9L2122.2,1219.3L2126.2,1219.6L2130.2,1220.0L2134.2,1220.4L2138.1,1220.7L2142.1,1221.1L2146.1,1221.4L2150.1,1221.7L2154.1,1222.1L2158.1,1222.4L2162.1,1222.7L2166.0,1223.0L2170.0,1223.3L2174.0,1223.6L2178.0,1223.9L2182.0,1224.1L2186.0,1224.4L2190.0,1224.7L2194.0,1224.9L2198.0,1225.1L2202.0,1225.4L2206.0,1225.6L2210.0,1225.8L2214.0,1226.0L2218.0,1226.2L2222.0,1226.4L2226.0,1226.5L2230.0,1226.7" stroke="#1400b4" stroke-width="8.4"/>
<use href="#g550" opacity="0.5"/>
<path d="M251.0,138.5L254.9,139.5L258.8,140.5L262.6,141.5L266.5,142.5L270.4,143.5L274.3,144.5L278.2,145.4L282.1,146.4L286.0,147.3L289.9,148.2L293.8,149.2L297.7,150.1L301.6,151.0L305.5,151.9L309.4,152.7L313.3,153.6L317.2,154.5L321.1,155.4L325.0,156.2L328.9,157.1L332.9,157.9L336.8,158.8L340.7,159.6L344.6,160.4L348.5,161.2L352.5,162.1L356.4,162.9L360.3,163.7L364.2,164.5L368.1,165.3L372.1,166.1L376.0,166.9L379.9,167.7L383.9,168.5L387.8,169.3L391.7,170.1L395.6,170.9L399.6,171.7L403.5,172.5L407.4,173.3L411.4,174.1L415.3,174.9L419.2,175.6L423.2,176.4L427.1,177.2L431.0,178.0L435.0,178.7L438.9,179.5L442.8,180.2L446.8,180.9L450.7,181.7L454.6,182.4L458.6,183.1L462.5,183.8L466.5,184.5L470.4,185.2L474.4,185.9L478.3,186.5L482.3,187.2L486.2,187.8L490.2,188.5L494.1,189.1L498.1,189.7L502.0,190.3L506.0,190.9L510.0,191.5L513.9,192.1L517.9,192.7L521.9,193.2L525.8,193.8L529.8,194.3L533.8,194.9L537.7,195.4L541.7,195.9L545.7,196.5L549.6,197.0L553.6,197.5L557.6,198.0L561.6,198.5L565.5,199.0L569.5,199.5L573.5,200.0L577.5,200.4L581.4,200.9L585.4,201.4L589.4,201.9L593.4,202.3L597.4,202.8L601.3,203.3L605.3,203.7L609.3,204.2L613.3,204.7L617.3,205.1L621.2,205.6L625.2,206.0L629.2,206.5L633.2,206.9L637.2,207.4L641.2,207.8L645.1,208.2L649.1,208.7L653.1,209.1L657.1,209.5L661.1,210.0L665.1,210.4L669.1,210.8L673.0,211.2L677.0,211.6L681.0,212.0L685.0,212.5L689.0,212.9L693.0,213.3L697.0,213.6L701.0,214.0L704.9,214.4L708.9,214.8L712.9,215.2L716.9,215.6L720.9,215.9L724.9,216.3L728.9,216.7L732.9,217.0L736.9,217.4L740.8,217.7L744.8,218.1L748.8,218.4L752.8,218.8L756.8,219.1L760.8,219.4L764.8,219.8L768.8,220.1L772.8,220.4L776.8,220.8L780.8,221.1L784.8,221.4L788.8,221.7L792.8,222.0L796.7,222.3L800.7,222.6L804.7,222.9L808.7,223.2L812.7,223.5L816.7,223.8L820.7,224.1L824.7,224.4L828.7,224.7L832.7,224.9L836.7,225.2L840.7,225.5L844.7,225.8L848.7,226.0L852.7,226.3L856.7,226.6L860.7,226.8L864.7,227.1L868.7,227.3L872.7,227.6L876.7,227.8L880.7,228.1L884.7,228.3L888.7,228.6L892.7,228.8L896.7,229.0L900.7,229.3L904.7,229.5L908.7,229.7L912.7,230.0L916.7,230.2L920.7,230.4L924.7,230.6L928.7,230.9L932.7,231.1L936.7,231.3L940.7,231.5L944.7,231.7L948.7,232.0L952.7,232.2L956.7,232.4L960.7,232.7L964.7,232.9L968.7,233.1L972.7,233.4L976.7,233.6L980.7,233.9L984.7,234.1L988.7,234.4L992.7,234.6L996.7,234.9L1000.7,235.2L1004.7,235.4L1008.7,235.7L1012.7,236.0L1016.7,236.3L1020.7,236.6L1024.7,236.9L1028.7,237.2L1032.7,237.5L1036.7,237.9L1040.7,238.2L1044.7,238.6L1048.6,238.9L1052.6,239.3L1056.6,239.7L1060.6,240.1L1064.6,240.5L1068.6,240.9L1072.6,241.3L1076.6,241.7L1080.5,242.2L1084.5,242.6L1088.5,243.1L1093.4,234.5L1097.3,235.2L1101.3,236.0L1105.2,236.7L1109.1,237.5L1113.0,238.3L1117.0,239.1L1120.9,240.0L1124.8,240.9L1128.7,241.7L1132.6,242.7L1136.5,243.6L1140.4,244.6L1144.2,245.6L1148.1,246.6L1152.0,247.6L1155.9,248.6L1159.7,249.7L1163.6,250.8L1167.4,252.0L1171.2,253.1L1175.1,254.3L1178.9,255.5L1182.7,256.7L1186.5,257.9L1190.3,259.2L1194.1,260.5L1197.9,261.8L1201.7,263.1L1205.4,264.5L1209.2,265.9L1213.0,267.3L1216.7,268.7L1220.4,270.2L1224.1,271.7L1227.9,273.2L1231.6,274.7L1235.3,276.3L1238.9,277.9L1242.6,279.5L1246.3,281.1L1249.9,282.8L1253.5,284.5L1257.2,286.2L1260.8,287.9L1264.4,289.7L1268.0,291.5L1271.6,293.3L1275.1,295.2L1278.7,297.0L1282.2,298.9L1285.7,300.8L1289.3,302.8L1292.7,304.8L1296.2,306.8L1299.7,308.8L1303.1,310.9L1306.6,312.9L1310.0,315.0L1313.4,317.2L1316.8,319.3L1320.1,321.5L1323.5,323.7L1326.8,326.0L1330.1,328.2L1333.4,330.5L1336.7,332.8L1339.9,335.2L1343.2,337.6L1346.4,340.0L1349.6,342.4L1352.7,344.8L1355.9,347.3L1359.0,349.8L1362.1,352.4L1365.1,354.9L1368.2,357.5L1371.2,360.1L1374.2,362.8L1377.2,365.4L1380.1,368.1L1383.1,370.9L1385.9,373.6L1388.8,376.4L1391.6,379.2L1394.5,382.0L1397.2,384.9L1400.0,387.8L1402.7,390.7L1405.4,393.7L1408.1,396.6L1410.7,399.6L1413.3,402.7L1415.9,405.7L1418.4,408.8L1421.0,411.9L1423.4,415.0L1425.9,418.2L1428.3,421.4L1430.7,424.6L1433.1,427.8L1435.4,431.1L1437.7,434.3L1440.0,437.6L1442.2,441.0L1444.5,444.3L1446.6,447.7L1448.8,451.0L1450.9,454.4L1453.1,457.8L1455.1,461.3L1457.2,464.7L1459.2,468.2L1461.2,471.6L1463.2,475.1L1465.2,478.6L1467.1,482.1L1469.1,485.7L1471.0,489.2L1472.9,492.7L1474.7,496.3L1476.6,499.9L1478.4,503.4L1480.2,507.0L1482.0,510.6L1483.8,514.2L1485.6,517.8L1487.4,521.4L1489.1,525.0L1490.9,528.6L1492.6,532.3L1494.3,535.9L1496.1,539.5L1497.8,543.1L1499.5,546.7L1501.2,550.4L1502.9,554.0L1504.5,557.6L1506.2,561.2L1507.9,564.9L1509.6,568.5L1511.3,572.1L1512.9,575.8L1514.6,579.4L1516.2,583.0L1517.9,586.7L1519.6,590.3L1521.2,593.9L1522.9,597.6L1524.5,601.2L1526.2,604.8L1527.8,608.5L1529.5,612.1L1531.1,615.7L1532.8,619.4L1534.4,623.0L1536.1,626.6L1537.7,630.3L1539.4,633.9L1541.1,637.5L1542.7,641.2L1544.4,644.8L1546.1,648.4L1547.7,652.1L1549.4,655.7L1551.1,659.3L1552.8,663.0L1554.5,666.6L1556.2,670.2L1557.9,673.9L1559.6,677.5L1561.3,681.1L1563.1,684.8L1564.8,688.4L1566.5,692.0L1568.3,695.6L1570.1,699.3L1571.8,702.9L1573.6,706.5L1575.4,710.1L1577.2,713.7L1579.0,717.3L1580.9,720.9L1582.7,724.5L1584.6,728.1L1586.5,731.7L1588.4,735.2L1590.4,738.8L1592.3,742.3L1594.3,745.8L1596.3,749.3L1598.4,752.8L1600.5,756.2L1602.6,759.6L1604.7,763.0L1606.9,766.4L1609.1,769.7L1611.3,773.1L1613.6,776.3L1615.9,779.6L1618.3,782.8L1620.7,786.0L1623.1,789.2L1625.6,792.3L1628.2,795.4L1630.7,798.4L1633.4,801.4L1636.0,804.4L1638.8,807.3L1641.5,810.2L1644.3,813.0L1647.2,815.8L1650.1,818.5L1653.0,821.2L1656.0,823.8L1659.0,826.4L1662.1,828.9L1665.2,831.4L1668.4,833.8L1671.6,836.1L1674.9,838.4L1678.2,840.6L1681.5,842.8L1684.9,844.9L1688.3,846.9L1691.7,848.9L1695.2,850.7L1698.8,852.6L1702.3,854.3L1705.9,856.0L1709.6,857.7L1713.2,859.2L1716.9,860.8L1720.7,862.2L1724.4,863.6L1728.2,865.0L1732.0,866.3L1735.8,867.5L1739.6,868.7L1743.5,869.8L1747.3,870.9L1751.2,871.9L1755.1,872.9L1759.0,873.8L1763.0,874.7L1766.9,875.6L1770.8,876.4L1774.8,877.1L1778.7,877.8L1782.7,878.5L1786.6,879.2L1790.6,879.8L1794.6,880.4L1798.6,880.9L1802.5,881.4L1806.5,881.9L1810.5,882.4L1814.5,882.9L1818.5,883.3L1822.5,883.8L1826.5,884.2L1830.5,884.6L1834.5,885.0L1838.5,885.4L1842.5,885.8L1846.5,886.1L1850.5,886.5L1854.5,886.9L1858.5,887.3L1862.5,887.6L1866.5,888.0L1870.5,888.4L1874.5,888.7L1878.5,889.1L1882.5,889.4L1886.5,889.8L1890.5,890.1L1894.5,890.5L1898.5,890.8L1902.5,891.1L1906.4,891.5L1910.4,891.8L1914.4,892.2L1918.4,892.5L1922.4,892.8L1926.4,893.1L1930.4,893.5L1934.4,893.8L1938.4,894.1L1942.4,894.4L1946.4,894.7L1950.4,895.0L1954.4,895.4L1958.4,895.7L1962.4,896.0L1966.4,896.3L1970.3,896.6L1974.3,896.9L1978.3,897.2L1982.3,897.5L1986.3,897.8L1990.3,898.1L1994.3,898.4L1998.3,898.7L2002.3,899.0L2006.3,899.3L2010.3,899.6L2014.3,899.9L2018.3,900.2L2022.2,900.5L2026.2,900.7L2030.2,901.0L2034.2,901.3L2038.2,901.6L2042.2,901.9L2046.2,902.2L2050.2,902.5L2054.2,902.8L2058.2,903.1L2062.2,903.3L2066.2,903.6L2070.1,903.9L2074.1,904.2L2078.1,904.5L2082.1,904.8L2086.1,905.1L2090.1,905.4L2094.1,905.7L2098.1,906.0L2102.1,906.2L2106.1,906.5L2110.1,906.8L2114.1,907.1L2118.1,907.4L2122.1,907.7L2126.1,908.0L2130.0,908.3L2134.0,908.6L2138.0,908.9L2142.0,909.2L2146.0,909.5L2150.0,909.8L2154.0,910.1L2158.0,910.4L2162.0,910.7L2166.0,911.1L2170.0,911.4L2174.0,911.7L2178.0,912.0L2182.0,912.3L2186.0,912.6L2190.0,913.0L2194.0,913.3L2198.0,913.6L2202.0,913.9L2206.0,914.3L2210.0,914.6L2214.0,914.9L2218.0,915.3L2222.0,915.6L2226.0,916.0L2230.0,916.3" stroke="#7d1478" stroke-width="8.2"/>
</g>
<!-- frame -->
<g fill="none" stroke="#000" stroke-width="8">
<line x1="246.9" y1="29.6" x2="2234.4" y2="29.6"/>
<line x1="250.9" y1="25.6" x2="250.9" y2="1628.4"/>
<line x1="2230.4" y1="25.6" x2="2230.4" y2="1628.4"/>
<line x1="216.4" y1="1624.4" x2="2234.4" y2="1624.4"/>
<line x1="216.4" y1="1043.9" x2="250" y2="1043.9"/>
<line x1="216.4" y1="464" x2="250" y2="464"/>
<g stroke-width="8.4">
<line x1="413.4" y1="1624" x2="413.4" y2="1659.6"/>
<line x1="742.8" y1="1624" x2="742.8" y2="1659.6"/>
<line x1="1073.6" y1="1624" x2="1073.6" y2="1659.6"/>
<line x1="1404.2" y1="1624" x2="1404.2" y2="1659.6"/>
<line x1="1735.6" y1="1624" x2="1735.6" y2="1659.6"/>
<line x1="2064.6" y1="1624" x2="2064.6" y2="1659.6"/>
</g>
</g>
<!-- tick labels -->
<g font-size="71.5" text-anchor="end">
<text transform="translate(196.5,484.5) scale(0.97,1)">96</text>
<text transform="translate(196.5,1064) scale(0.97,1)">88</text>
<text transform="translate(196.5,1644.5) scale(0.97,1)">80</text>
</g>
<g font-size="71.5" text-anchor="middle">
<text transform="translate(414.5,1732) scale(0.97,1)">100</text>
<text transform="translate(744,1732) scale(0.97,1)">200</text>
<text transform="translate(1073.5,1732) scale(0.97,1)">300</text>
<text transform="translate(1404.5,1732) scale(0.97,1)">400</text>
<text transform="translate(1736,1732) scale(0.97,1)">500</text>
<text transform="translate(2065,1732) scale(0.97,1)">600</text>
</g>
<text transform="translate(1172,1869) scale(0.94,1)" font-size="73">T/ <tspan class="r">°C</tspan></text>
<text transform="translate(82.5,1095) rotate(-90) scale(1.005,1)" font-size="70">Weight loss/ %</text>
<!-- legend -->
<g fill="none">
<line x1="363" y1="884.4" x2="573" y2="884.4" stroke="#000000" stroke-width="8.5"/>
<line x1="363" y1="997.4" x2="573" y2="997.4" stroke="#e6141e" stroke-width="8.2"/>
<line x1="360" y1="1106.8" x2="570" y2="1106.8" stroke="#1400b4" stroke-width="8.4"/>
<line x1="362" y1="1218.1" x2="572.3" y2="1218.1" stroke="#00dc32" stroke-width="10.8"/>
<line x1="362" y1="1329.6" x2="572.3" y2="1329.6" stroke="#7d1478" stroke-width="8.2"/>
</g>
<g font-size="67.8">
<text transform="translate(612,909.3) scale(1.012,1)">ZnO</text>
<text transform="translate(612,1025.4) scale(1.012,1)">LC/ZnO-450 <tspan class="r">°C</tspan></text>
<text transform="translate(612,1132) scale(1.012,1)">LC/ZnO-500 <tspan class="r">°C</tspan></text>
<text transform="translate(612,1243.2) scale(1.012,1)">LC/ZnO-550 <tspan class="r">°C</tspan></text>
<text transform="translate(607,1354.5) scale(1.012,1)">LC/ZnO-600 <tspan class="r">°C</tspan></text>
</g>
<!-- annotations -->
<g font-size="69">
<text transform="translate(1628,710.6) scale(1.02,1)">-9.0 %</text>
<text transform="translate(1870.5,1064) scale(1.01,1)">-12.0 %</text>
<text transform="translate(1678.5,1325) scale(1.01,1)">-12.2 %</text>
<text transform="translate(1399.5,1487) scale(1.01,1)">-14.3 %</text>
</g>
<g>
<line x1="1837.7" y1="1132.7" x2="1864" y2="1106.5" stroke="#666" stroke-width="2.6"/>
<polygon points="1888.4,1080.1 1855.6,1101.1 1869.3,1115.4" fill="#000"/>
<line x1="1838.3" y1="1192.9" x2="1816" y2="1217" stroke="#666" stroke-width="2.6"/>
<polygon points="1790.7,1243 1810,1210 1825.3,1221" fill="#000"/>
</g>
</g>

</svg></body></html>
